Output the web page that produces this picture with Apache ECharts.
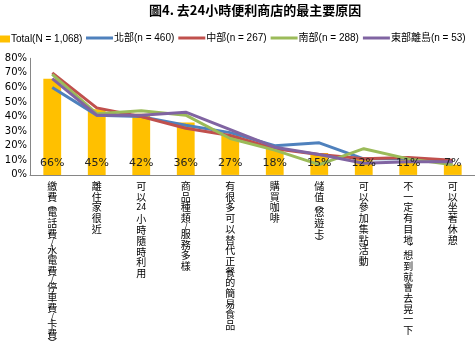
<!DOCTYPE html>
<html><head><meta charset="utf-8">
<script src="https://cdn.jsdelivr.net/npm/echarts@6/dist/echarts.min.js"></script>
<style>html,body{margin:0;padding:0;background:#fff}#c{width:475px;height:347px}</style>
</head><body><div id="c"></div>
<script>
var titleText = '圖4. 去24小時便利商店的最主要原因';
var categories = ['繳費(電話費/水電費/停車費/卡費)','離住家很近','可以24小時隨時利用','商品種類/服務多樣','有很多可以替代正餐的簡易食品','購買咖啡','儲值(悠遊卡)','可以參加集點活動','不一定有目地，想到就會去晃一下','可以坐著休憩'];
var seriesNames = ['Total(N = 1,068)','北部(n = 460)','中部(n = 267)','南部(n = 288)','東部離島(n = 53)'];
var total = [66,45,42,36,27,18,15,12,11,7];
var north = [60,41,40,34,29,20,22,11,11,9];
var central = [70,46,40,32,27,18,14,11,12,10];
var south = [69,42,44,41,25,17,7,18,11,7];
var east = [66,41,41,43,31,19,14,8,9,9];

var chart = echarts.init(document.getElementById('c'));
var punct = {'(':'︵',')':'︶','，':'︐','/':'/'};
function vert(s){
  var out=[]; var i=0;
  while(i<s.length){
    var ch=s[i];
    if(/[0-9]/.test(ch)){ var j=i; while(j<s.length && /[0-9]/.test(s[j])) j++; out.push('{n|'+s.slice(i,j)+'}'); i=j; continue; }
    if(punct[ch]!==undefined){ out.push('{p|'+punct[ch]+'}'); }
    else out.push('{c|'+ch+'}');
    i++;
  }
  return out.join('\n');
}
var colors = ['#FFC000','#4F81BD','#C0504D','#9BBB59','#8064A2'];
var lineData = [north, central, south, east];
var series = [{
  name: seriesNames[0], type:'bar', data: total, barWidth:'40%', z:2,
  itemStyle:{color:colors[0]}
}];
for (var k=0;k<4;k++){
  series.push({name: seriesNames[k+1], type:'line', data: lineData[k], symbol:'none', lineStyle:{width:3, color:colors[k+1]}, itemStyle:{color:colors[k+1]}, z:3+k});
}
series.push({
  name:'labels', type:'bar', data: total, barWidth:'40%', barGap:'-100%', z:20, silent:true,
  itemStyle:{color:'rgba(0,0,0,0)'},
  label:{show:true, position:'insideBottom', distance:6, formatter:'{c}%', color:'#222', fontSize:11, fontFamily:'DejaVu Sans'}
});
chart.setOption({
  animation:false,
  title:{text:titleText, left:149, top:4, padding:0, textStyle:{fontSize:13, fontWeight:'bold', color:'#000', fontFamily:'Noto Sans CJK TC'}},
  legend:[{
    data:[seriesNames[0]], left:0, top:34, itemWidth:10, itemHeight:7, itemGap:4, padding:0, icon:'rect',
    textStyle:{fontSize:10, color:'#000', fontFamily:'Liberation Sans, Noto Sans CJK TC', padding:[0,0,0,-4]}
  },{
    data:seriesNames.slice(1), left:86, top:33, itemWidth:27, itemHeight:3, itemGap:4, padding:0, icon:'rect',
    textStyle:{fontSize:10, color:'#000', fontFamily:'Liberation Sans, Noto Sans CJK TC', padding:[0,0,0,-4]}
  }],
  grid:{left:30, right:-9, top:58.3, bottom:171, containLabel:false},
  xAxis:{type:'category', data:categories,
    axisLine:{lineStyle:{color:'#868686', width:1}}, axisTick:{show:false},
    axisLabel:{interval:0, margin:6, verticalAlign:'top', formatter:function(v){return vert(v);},
      rich:{
        c:{fontSize:10, lineHeight:10.7, color:'#000', fontFamily:'Noto Sans CJK TC'},
        p:{fontSize:9, lineHeight:5, color:'#000', fontFamily:'Noto Sans CJK TC'},
        n:{fontSize:8, lineHeight:12, color:'#000', fontFamily:'DejaVu Sans'}
      }}
  },
  yAxis:{type:'value', min:0, max:80, interval:10,
    axisLine:{show:true, lineStyle:{color:'#868686'}}, axisTick:{show:false}, splitLine:{show:false},
    axisLabel:{formatter:'{value}%', fontSize:10, color:'#000', margin:3, fontFamily:'DejaVu Sans'}
  },
  series: series
});
</script></body></html>
